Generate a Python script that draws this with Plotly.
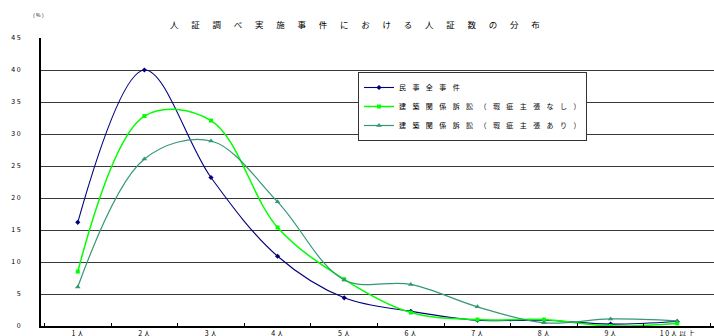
import plotly.graph_objects as go

categories = ["1人", "2人", "3人", "4人", "5人", "6人", "7人", "8人", "9人", "10人以上"]
x_tick_text = ["1 人", "2 人", "3 人", "4 人", "5 人", "6 人", "7 人", "8 人", "9 人", "1 0 人 以 上"]

minji_all = [16.2, 40.0, 23.2, 10.9, 4.4, 2.3, 0.9, 0.9, 0.3, 0.7]
kenchiku_nashi = [8.5, 32.8, 32.1, 15.4, 7.3, 2.1, 1.0, 1.0, 0.0, 0.4]
kenchiku_ari = [6.1, 26.1, 28.9, 19.4, 7.2, 6.5, 3.0, 0.5, 1.1, 0.8]

GAP = "\u2002\u2005\u2006"
series_names = [GAP.join(list("民事全事件")),
                GAP.join(list("建築関係訴訟（瑕疵主張なし）")),
                GAP.join(list("建築関係訴訟（瑕疵主張あり）"))]

y_tick_vals = [0, 5, 10, 15, 20, 25, 30, 35, 40, 45]
y_tick_text = ["0", "5", "1 0", "1 5", "2 0", "2 5", "3 0", "3 5", "4 0", "4 5"]

title_text = "\u3000\u2002".join(list("人証調べ実施事件における人証数の分布"))

FONT = "Noto Sans CJK JP, Noto Sans, sans-serif"

fig = go.Figure()
styles = [
    dict(color="#000080", width=1.1, symbol="diamond", size=4),
    dict(color="#00FF00", width=1.5, symbol="square", size=4),
    dict(color="#339970", width=1.2, symbol="triangle-up", size=5),
]
for name, vals, st in zip(series_names, [minji_all, kenchiku_nashi, kenchiku_ari], styles):
    fig.add_trace(go.Scatter(
        x=categories, y=vals, name=name, mode="lines+markers",
        line=dict(color=st["color"], width=st["width"], shape="spline"),
        marker=dict(color=st["color"], symbol=st["symbol"], size=st["size"]),
    ))

fig.update_layout(
    width=714, height=336,
    margin=dict(l=41, r=0, t=38, b=10),
    plot_bgcolor="white", paper_bgcolor="white",
    font=dict(family=FONT, size=7, color="#000"),
    title=dict(text=title_text, x=0.497, xanchor="center", y=1 - 25/336, yanchor="middle",
               font=dict(size=8.5, family=FONT, color="#000"), automargin=False),
    showlegend=True,
    legend=dict(x=(358 - 41) / 673, xanchor="left", y=(326 - 72) / 288, yanchor="top",
                bgcolor="white", bordercolor="#333", borderwidth=1,
                font=dict(size=7, family=FONT), tracegroupgap=0, itemwidth=30),
    xaxis=dict(type="category", tickvals=categories, ticktext=x_tick_text,
               showline=True, linecolor="#000", linewidth=2, showgrid=False,
               ticks="inside", ticklen=3, tickcolor="#000", tickson="boundaries",
               tickfont=dict(size=7), fixedrange=True, automargin=False,
               ticklabelstandoff=0),
    yaxis=dict(range=[0, 45], tickvals=y_tick_vals, ticktext=y_tick_text,
               showline=True, linecolor="#000", linewidth=2,
               showgrid=True, gridcolor="#3a3a3a", gridwidth=1, zeroline=False,
               ticks="", ticklabelstandoff=17, tickfont=dict(size=7), automargin=False),
    annotations=[dict(text="（ % ）", xref="paper", yref="paper", x=-0.003, y=(326 - 14) / 288,
                      xanchor="center", yanchor="middle", showarrow=False,
                      font=dict(size=5, family=FONT, color="#000"))],
)

fig.write_html("out.html", config={"displayModeBar": False},
               post_script="document.body.style.margin='0';document.body.style.overflow='hidden';")
